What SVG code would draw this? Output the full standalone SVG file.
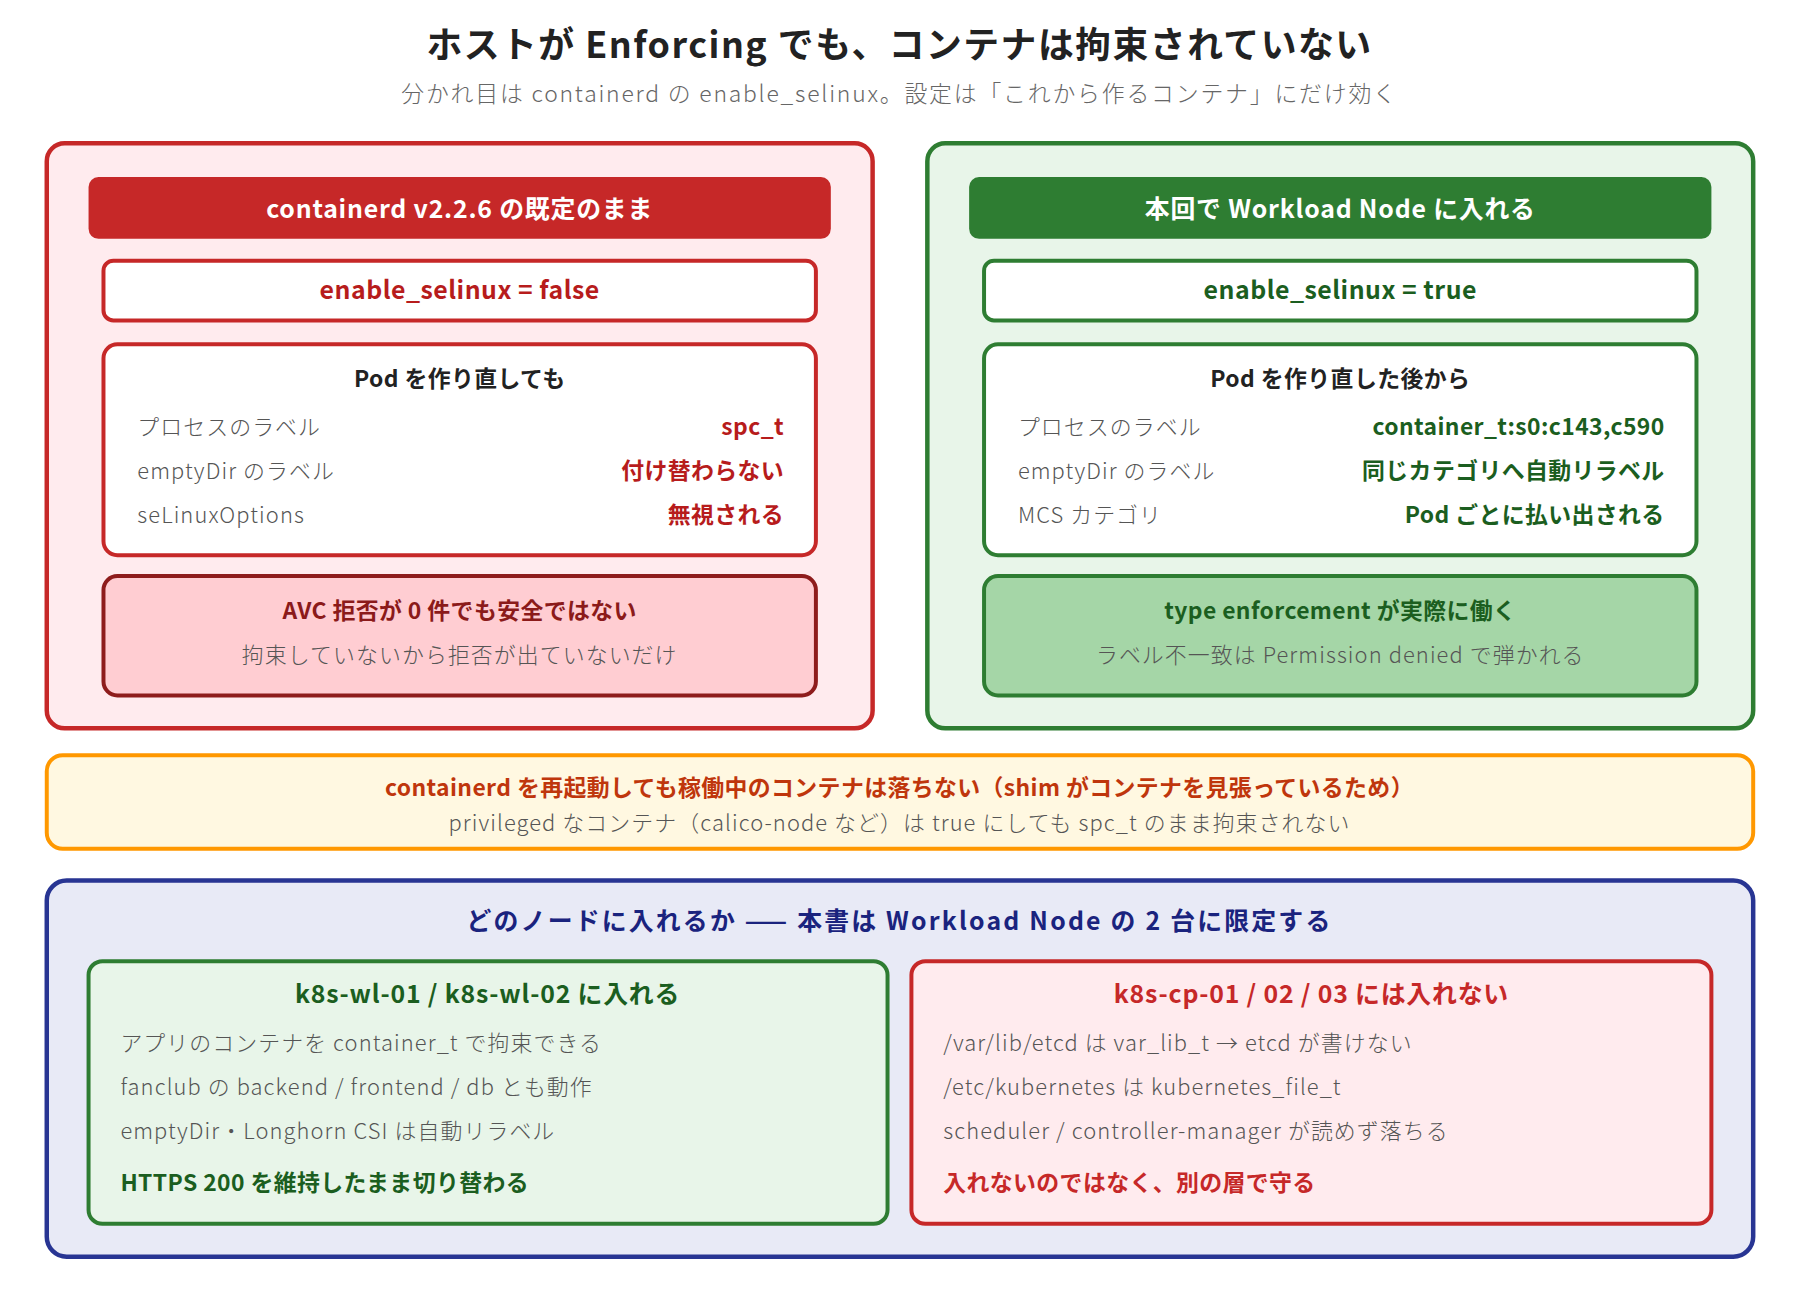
<svg xmlns="http://www.w3.org/2000/svg" width="1800" height="1296" viewBox="0 0 1800 1296">
<style>
text{font-family:"Noto Sans CJK JP","Noto Sans",sans-serif}
.c{text-anchor:middle}.e{text-anchor:end}
.b{font-weight:bold}
.g{fill:#555;font-size:22px;font-weight:300;letter-spacing:1.1px}
.t{font-size:23px;font-weight:bold;letter-spacing:0.4px}
</style>
<rect width="1800" height="1296" fill="#fff"/>
<g transform="scale(0.995)">
<text x="904" y="58" class="c b" font-size="36" fill="#222" letter-spacing="1.5">ホストが Enforcing でも、コンテナは拘束されていない</text>
<text x="904" y="103" class="c" font-size="23" fill="#666" font-weight="300" letter-spacing="1.8">分かれ目は containerd の enable_selinux。設定は「これから作るコンテナ」にだけ効く</text>

<g id="left">
<rect x="47" y="144" width="830" height="588" rx="18" fill="#ffebee" stroke="#c62828" stroke-width="4.5"/>
<rect x="89" y="178" width="746" height="62" rx="10" fill="#c62828"/>
<text x="462" y="219" class="c b" font-size="25" fill="#fff" letter-spacing="0.8">containerd v2.2.6 の既定のまま</text>
<rect x="104" y="262" width="716" height="60" rx="10" fill="#fff" stroke="#c62828" stroke-width="4"/>
<text x="462" y="300" class="c b" font-size="25" fill="#b71c1c" letter-spacing="0.5">enable_selinux = false</text>
<rect x="104" y="346" width="716" height="212" rx="14" fill="#fff" stroke="#c62828" stroke-width="4"/>
<text x="462" y="389" class="c t" fill="#222">Pod を作り直しても</text>
<text x="138" y="437" class="g">プロセスのラベル</text>
<text x="138" y="481" class="g">emptyDir のラベル</text>
<text x="138" y="526" class="g">seLinuxOptions</text>
<text x="788" y="437" class="e t" fill="#b71c1c">spc_t</text>
<text x="788" y="481" class="e t" fill="#b71c1c">付け替わらない</text>
<text x="788" y="526" class="e t" fill="#b71c1c">無視される</text>
<rect x="104" y="579" width="716" height="120" rx="14" fill="#ffcdd2" stroke="#8e1c1c" stroke-width="4"/>
<text x="462" y="622" class="c t" fill="#8b1a1a">AVC 拒否が 0 件でも安全ではない</text>
<text x="462" y="666" class="c g">拘束していないから拒否が出ていないだけ</text>
</g>

<g id="right">
<rect x="932" y="144" width="830" height="588" rx="18" fill="#e8f5e9" stroke="#2e7d32" stroke-width="4.5"/>
<rect x="974" y="178" width="746" height="62" rx="10" fill="#2e7d32"/>
<text x="1347" y="219" class="c b" font-size="25" fill="#fff" letter-spacing="0.8">本回で Workload Node に入れる</text>
<rect x="989" y="262" width="716" height="60" rx="10" fill="#fff" stroke="#2e7d32" stroke-width="4"/>
<text x="1347" y="300" class="c b" font-size="25" fill="#1b5e20" letter-spacing="0.5">enable_selinux = true</text>
<rect x="989" y="346" width="716" height="212" rx="14" fill="#fff" stroke="#2e7d32" stroke-width="4"/>
<text x="1347" y="389" class="c t" fill="#222">Pod を作り直した後から</text>
<text x="1023" y="437" class="g">プロセスのラベル</text>
<text x="1023" y="481" class="g">emptyDir のラベル</text>
<text x="1023" y="526" class="g">MCS カテゴリ</text>
<text x="1673" y="437" class="e t" fill="#1b5e20">container_t:s0:c143,c590</text>
<text x="1673" y="481" class="e t" fill="#1b5e20">同じカテゴリへ自動リラベル</text>
<text x="1673" y="526" class="e t" fill="#1b5e20">Pod ごとに払い出される</text>
<rect x="989" y="579" width="716" height="120" rx="14" fill="#a5d6a7" stroke="#2e7d32" stroke-width="4"/>
<text x="1347" y="622" class="c t" fill="#1b5e20">type enforcement が実際に働く</text>
<text x="1347" y="666" class="c g">ラベル不一致は Permission denied で弾かれる</text>
</g>

<g id="note">
<rect x="47" y="759" width="1715" height="94" rx="16" fill="#fff8e1" stroke="#ff9800" stroke-width="4"/>
<text x="904" y="800" class="c t" font-size="22" fill="#bf360c" letter-spacing="0.9">containerd を再起動しても稼働中のコンテナは落ちない（shim がコンテナを見張っているため）</text>
<text x="904" y="835" class="c g">privileged なコンテナ（calico-node など）は true にしても spc_t のまま拘束されない</text>
</g>

<g id="scope">
<rect x="47" y="885" width="1715" height="378" rx="20" fill="#e8eaf6" stroke="#283593" stroke-width="4.5"/>
<text x="904" y="935" class="c b" font-size="25" fill="#1a237e" letter-spacing="2.2">どのノードに入れるか —— 本書は Workload Node の 2 台に限定する</text>
</g>
<g id="wl">
<rect x="89" y="966" width="803" height="264" rx="14" fill="#e8f5e9" stroke="#2e7d32" stroke-width="4"/>
<text x="490" y="1008" class="c b" font-size="25" fill="#1b5e20" letter-spacing="0.8">k8s-wl-01 / k8s-wl-02 に入れる</text>
<text x="121" y="1056" class="g">アプリのコンテナを container_t で拘束できる</text>
<text x="121" y="1101" class="g">fanclub の backend / frontend / db とも動作</text>
<text x="121" y="1145" class="g">emptyDir・Longhorn CSI は自動リラベル</text>
<text x="121" y="1197" class="t" fill="#1b5e20">HTTPS 200 を維持したまま切り替わる</text>
</g>
<g id="cp">
<rect x="916" y="966" width="804" height="264" rx="14" fill="#ffebee" stroke="#c62828" stroke-width="4"/>
<text x="1318" y="1008" class="c b" font-size="25" fill="#c62828" letter-spacing="0.8">k8s-cp-01 / 02 / 03 には入れない</text>
<text x="948" y="1056" class="g">/var/lib/etcd は var_lib_t → etcd が書けない</text>
<text x="948" y="1101" class="g">/etc/kubernetes は kubernetes_file_t</text>
<text x="948" y="1145" class="g">scheduler / controller-manager が読めず落ちる</text>
<text x="948" y="1197" class="t" fill="#c62828">入れないのではなく、別の層で守る</text>
</g>
<g id="connectors"/>
</g>
</svg>
